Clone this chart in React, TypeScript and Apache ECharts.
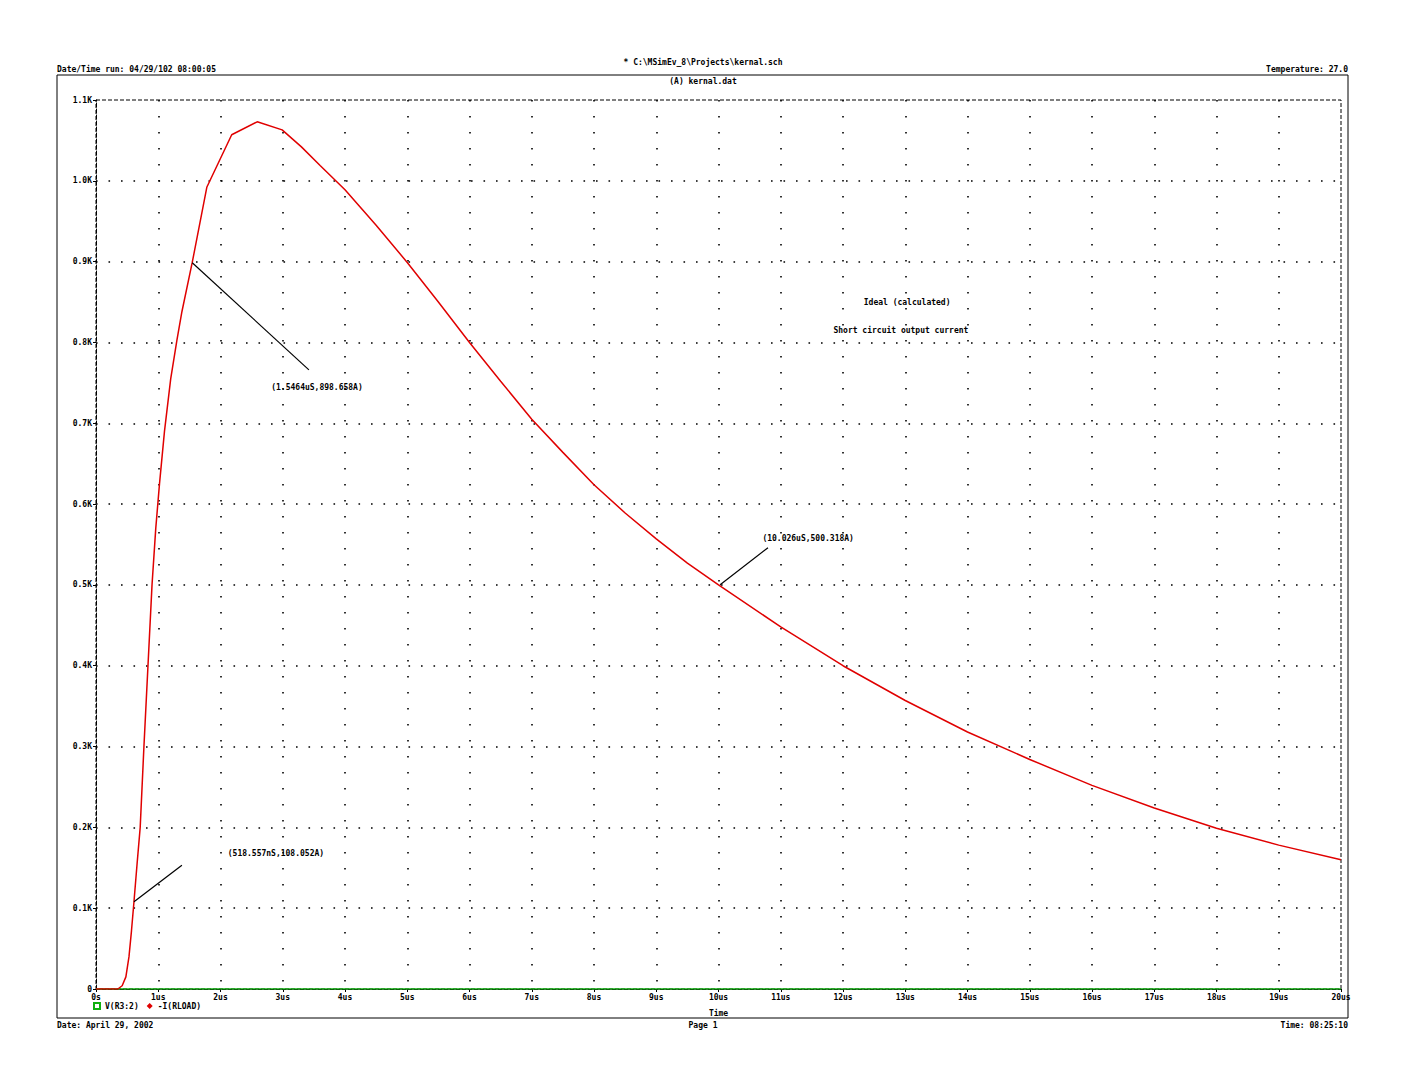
import React, { useEffect, useRef } from 'react';
import * as echarts from 'echarts';

const xTickLabels = ['0s', '1us', '2us', '3us', '4us', '5us', '6us', '7us', '8us', '9us', '10us', '11us', '12us', '13us', '14us', '15us', '16us', '17us', '18us', '19us', '20us'];
const yTickLabels = ['0', '0.1K', '0.2K', '0.3K', '0.4K', '0.5K', '0.6K', '0.7K', '0.8K', '0.9K', '1.0K', '1.1K'];

// -I(RLOAD): time (us) and current (A)
const timeUs = [0, 0.3, 0.35, 0.42, 0.48, 0.53, 0.57, 0.61, 0.66, 0.71, 0.77, 0.835, 0.9, 0.96, 1.02, 1.1, 1.2, 1.3, 1.38, 1.546, 1.78, 2.18, 2.59, 2.99, 3.3, 3.6, 4, 4.5, 5, 5.5, 6, 6.5, 7, 7.5, 8, 8.5, 9, 9.5, 10, 11, 12, 13, 14, 15, 16, 17, 18, 19, 20];
const currentA = [0, 0, 0, 4, 15, 40, 72, 108, 155, 200, 300, 400, 500, 570, 625, 690, 755, 803, 838, 899, 992, 1057, 1073, 1063, 1042, 1019, 989, 945, 899, 850, 800, 752, 705, 664, 624, 589, 557, 527, 500, 448, 400, 357, 318, 284, 252, 224, 199, 178, 160];

// V(R3:2)
const voltTimeUs = [0, 20];
const voltValues = [0, 0];

// cursor annotations
const cursorTimes = [0.61, 1.5464, 10.026];
const cursorValues = [108.052, 898.658, 500.318];
const cursorLabels = ['(518.557nS,108.052A)', '(1.5464uS,898.658A)', '(10.026uS,500.318A)'];
const leaderEndTimes = [1.38, 3.42, 10.795];
const leaderEndValues = [153, 766, 546];
const labelTimes = [2.89, 3.55, 11.44];
const labelValues = [168, 744, 558];

const noteTexts = ['Ideal (calculated)', 'Short circuit output current'];
const noteTimes = [13.03, 12.93];
const noteValues = [849, 815];

const FONT = 'DejaVu Sans Mono';

export default function App() {
  const ref = useRef<HTMLDivElement>(null);
  useEffect(() => {
    const chart = echarts.init(ref.current!, null, { renderer: 'svg' });
    const tf = { fontFamily: FONT, fontWeight: 'bold' as const, fontSize: 8, color: '#000' };
    const gfont = 'bold 8px "DejaVu Sans Mono"';
    const red = timeUs.map((t, i) => [t, currentA[i]]);
    const green = voltTimeUs.map((t, i) => [t, voltValues[i]]);
    const txt = (text: string, x: number, y: number, align: string) => ({
      type: 'text',
      x,
      y,
      silent: true,
      style: { text, font: gfont, fill: '#000', align, verticalAlign: 'middle' },
    });
    chart.setOption({
      animation: false,
      backgroundColor: '#fff',
      grid: {
        left: 96,
        right: 67,
        top: 100,
        bottom: 99,
        show: true,
        borderColor: '#000',
        borderWidth: 1,
        borderType: [4, 2],
      },
      xAxis: {
        type: 'value',
        min: 0,
        max: 20,
        interval: 1,
        axisLine: { show: true, onZero: false, lineStyle: { color: '#000', width: 1, type: [4, 2] } },
        axisTick: { show: true, length: 3, lineStyle: { color: '#000' } },
        axisLabel: { ...tf, margin: 4, formatter: (v: number) => xTickLabels[Math.round(v)] ?? '' },
        splitLine: { show: true, showMinLine: false, showMaxLine: false, lineStyle: { color: '#000', width: 1.6, type: [1.6, 14.4] } },
        name: 'Time',
        nameLocation: 'middle',
        nameGap: 20,
        nameTextStyle: tf,
      },
      yAxis: {
        type: 'value',
        min: 0,
        max: 1100,
        interval: 100,
        axisLine: { show: true, lineStyle: { color: '#000', width: 1, type: [4, 2] } },
        axisTick: { show: true, length: 3, lineStyle: { color: '#000' } },
        axisLabel: { ...tf, margin: 4, formatter: (v: number) => yTickLabels[Math.round(v / 100)] ?? '' },
        splitLine: { show: true, showMinLine: false, showMaxLine: false, lineStyle: { color: '#000', width: 1.6, type: [1.6, 10.9] } },
      },
      legend: {
        left: 88,
        top: 997,
        itemWidth: 6,
        itemHeight: 6,
        itemGap: 8,
        textStyle: tf,
        data: [
          { name: 'V(R3:2)', icon: 'emptyRect' },
          { name: '-I(RLOAD)', icon: 'diamond' },
        ],
      },
      series: [
        {
          name: 'V(R3:2)',
          type: 'line',
          data: green,
          symbol: 'none',
          lineStyle: { color: '#10b010', width: 1.5 },
          itemStyle: { color: '#10b010' },
          z: 2,
        },
        {
          name: '-I(RLOAD)',
          type: 'line',
          data: red,
          symbol: 'none',
          lineStyle: { color: '#e00000', width: 1.5 },
          itemStyle: { color: '#e00000' },
          z: 3,
          markLine: {
            silent: true,
            symbol: ['none', 'none'],
            label: { show: false },
            lineStyle: { color: '#000', width: 1.2, type: 'solid' },
            data: cursorTimes.map((t, i) => [
              { coord: [t, cursorValues[i]] },
              { coord: [leaderEndTimes[i], leaderEndValues[i]] },
            ]),
          },
          markPoint: {
            silent: true,
            symbol: 'rect',
            symbolSize: 0,
            label: { show: true, position: 'inside', ...tf },
            data: [
              ...labelTimes.map((t, i) => ({
                coord: [t, labelValues[i]],
                label: { formatter: cursorLabels[i] },
              })),
              ...noteTimes.map((t, i) => ({
                coord: [t, noteValues[i]],
                label: { formatter: noteTexts[i] },
              })),
            ],
          },
        },
      ],
      graphic: [
        {
          type: 'rect',
          silent: true,
          shape: { x: 57, y: 75, width: 1291, height: 943 },
          style: { fill: 'none', stroke: '#000', lineWidth: 1 },
        },
        txt('* C:\\MSimEv_8\\Projects\\kernal.sch', 703, 62, 'center'),
        txt('Date/Time run: 04/29/102 08:00:05', 57, 69, 'left'),
        txt('Temperature: 27.0', 1348, 69, 'right'),
        txt('(A) kernal.dat', 703, 81, 'center'),
        txt('Date: April 29, 2002', 57, 1025, 'left'),
        txt('Page 1', 703, 1025, 'center'),
        txt('Time: 08:25:10', 1348, 1025, 'right'),
      ],
    });
    return () => chart.dispose();
  }, []);
  return (
    <div
      ref={ref}
      style={{ position: 'absolute', left: 0, top: 0, width: 1408, height: 1088, background: '#fff' }}
    />
  );
}
